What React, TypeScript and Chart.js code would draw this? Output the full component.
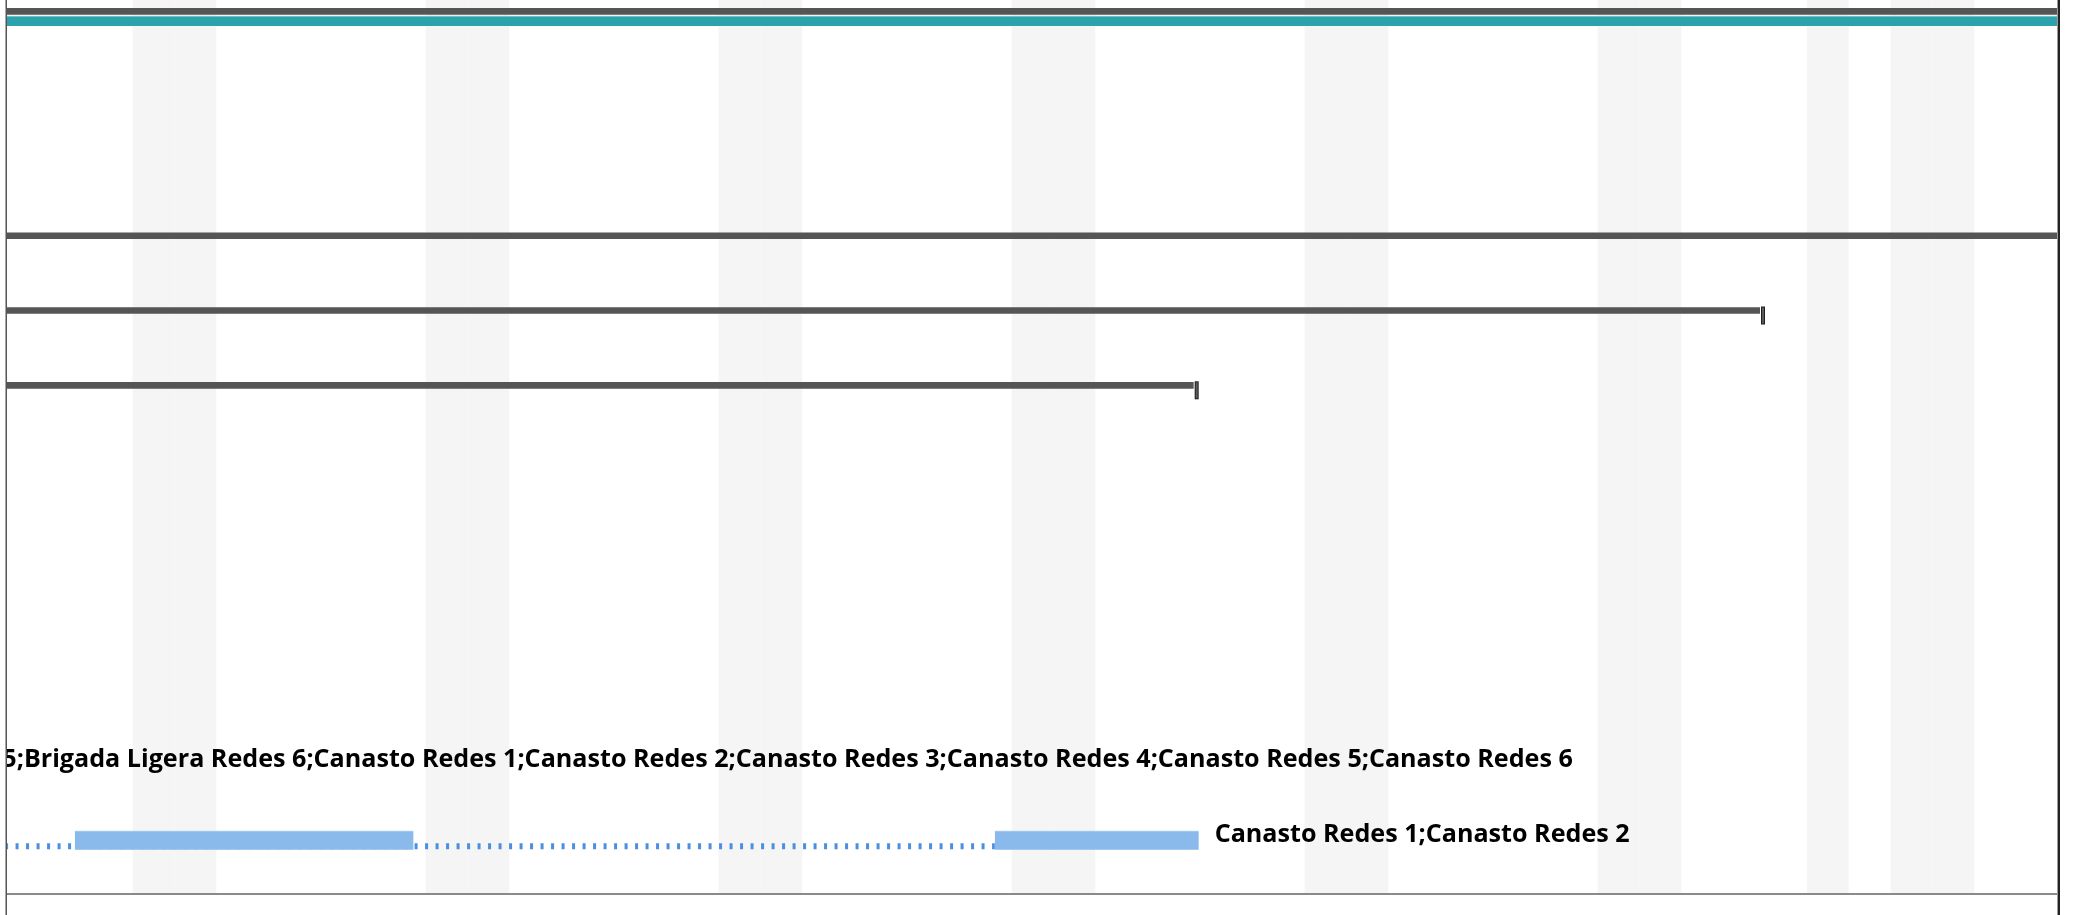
import React, { useEffect, useRef } from 'react';
import { Chart, registerables } from 'chart.js';

Chart.register(...registerables);

// ---- timeline (days) ----
const DAY_MIN = 0;
const DAY_MAX = 49;
const nonWorkingDays = [3, 4, 10, 11, 17, 18, 24, 25, 31, 32, 38, 39, 43, 45, 46];

// ---- rows (0 = top) ----
const ROW_MIN = -0.24;
const ROW_MAX = 11.7;

// summary bars
const summaryRows = [0, 3, 4, 5];
const summaryStart = [-60, -60, -60, -60];
const summaryEnd = [60, 60, 42.0, 28.47];
const summaryCapped = [false, false, true, true];

// team / baseline bar
const teamRows = [0];
const teamStart = [-60];
const teamEnd = [60];

// task bars
const taskRows = [10, 11, 11];
const taskStart = [-52, 1.62, 23.6];
const taskEnd = [-34.58, 9.71, 28.47];

// dotted slack lines
const slackRows = [11];
const slackStart = [-60];
const slackEnd = [23.6];

// resource labels (drawn after the task end)
const labelRows = [10, 11];
const labelAfter = [-34.58, 28.47];
const labelTexts = [
  'Brigada Ligera Redes 1;Brigada Ligera Redes 2;Brigada Ligera Redes 3;Brigada Ligera Redes 4;Brigada Ligera Redes 5;Brigada Ligera Redes 6;Canasto Redes 1;Canasto Redes 2;Canasto Redes 3;Canasto Redes 4;Canasto Redes 5;Canasto Redes 6',
  'Canasto Redes 1;Canasto Redes 2',
];

const LABEL_FAMILY = '"Open Sans"';
const LABEL_REF_WIDTH = 415; // width of the short label in the reference style

function labelFont(ctx: CanvasRenderingContext2D) {
  ctx.font = `bold 24px ${LABEL_FAMILY}`;
  const w = ctx.measureText(labelTexts[1]).width;
  const size = (24 * LABEL_REF_WIDTH) / w;
  return `bold ${size.toFixed(2)}px ${LABEL_FAMILY}`;
}

const ganttPlugin = {
  id: 'gantt',
  afterDatasetsUpdate(chart: any) {
    chart.data.datasets.forEach((ds: any, i: number) => {
      const off = ds.offsetPx || 0;
      if (!off) return;
      const meta = chart.getDatasetMeta(i);
      meta.data.forEach((el: any) => {
        el.y += off;
      });
    });
  },
  beforeDatasetsDraw(chart: any) {
    const { ctx, chartArea, scales } = chart;
    const x = scales.x;
    ctx.save();
    ctx.beginPath();
    ctx.rect(chartArea.left, 0, chartArea.right - chartArea.left, chartArea.bottom);
    ctx.clip();
    ctx.fillStyle = '#f5f5f5';
    nonWorkingDays.forEach((d) => {
      const x0 = x.getPixelForValue(d);
      const x1 = x.getPixelForValue(d + 1);
      ctx.fillRect(x0, 0, x1 - x0, chartArea.bottom);
    });
    // dotted slack lines
    ctx.strokeStyle = '#4b8fdf';
    ctx.lineWidth = 6;
    ctx.setLineDash([3, 7.5]);
    slackRows.forEach((r, i) => {
      const yc = scales.y.getPixelForValue(r) + 5.5;
      ctx.beginPath();
      ctx.moveTo(x.getPixelForValue(slackStart[i]), yc);
      ctx.lineTo(x.getPixelForValue(slackEnd[i]), yc);
      ctx.stroke();
    });
    ctx.restore();
  },
  afterDatasetsDraw(chart: any) {
    const { ctx, chartArea, scales } = chart;
    const x = scales.x;
    const y = scales.y;
    ctx.save();
    ctx.beginPath();
    ctx.rect(chartArea.left, chartArea.top, chartArea.right - chartArea.left, chartArea.bottom - chartArea.top);
    ctx.clip();
    // end caps of summary bars
    summaryRows.forEach((r, i) => {
      if (!summaryCapped[i]) return;
      const xe = x.getPixelForValue(summaryEnd[i]);
      const top = y.getPixelForValue(r) - 6.6 - 3 - 1;
      ctx.fillStyle = '#ffffff';
      ctx.fillRect(xe - 5, top - 1, 6, 20);
      ctx.fillStyle = '#1e1e1e';
      ctx.fillRect(xe - 4, top, 4, 18);
      ctx.fillStyle = '#5a5a5a';
      ctx.fillRect(xe - 3, top + 1, 2, 16);
    });
    // labels
    ctx.font = labelFont(ctx);
    ctx.fillStyle = '#000000';
    ctx.textAlign = 'left';
    ctx.textBaseline = 'alphabetic';
    labelRows.forEach((r, i) => {
      const xs = x.getPixelForValue(labelAfter[i]) + 16;
      const yb = y.getPixelForValue(r) + 1;
      ctx.fillText(labelTexts[i], xs, yb);
    });
    ctx.restore();
  },
  afterDraw(chart: any) {
    const { ctx, chartArea, height } = chart;
    ctx.save();
    // bottom line
    ctx.fillStyle = '#8a8a8a';
    ctx.fillRect(chartArea.left, chartArea.bottom, chartArea.right - chartArea.left, 2);
    // left border
    ctx.fillStyle = '#555555';
    ctx.fillRect(chartArea.left - 1.5, 0, 1.5, height);
    // right border
    ctx.fillStyle = '#9a9a9a';
    ctx.fillRect(chartArea.right - 1, 0, 1, height);
    ctx.fillStyle = '#222222';
    ctx.fillRect(chartArea.right, 0, 2, height);
    ctx.restore();
  },
};

function toFloating(rows: number[], starts: number[], ends: number[]) {
  return rows.map((r, i) => ({ x: [starts[i], ends[i]], y: r }));
}

export default function App() {
  const canvasRef = useRef<HTMLCanvasElement | null>(null);

  useEffect(() => {
    document.body.style.margin = '0';
    const canvas = canvasRef.current;
    if (!canvas) return;
    const chart = new Chart(canvas, {
      type: 'bar',
      data: {
        datasets: [
          {
            label: 'Resumen',
            data: toFloating(summaryRows, summaryStart, summaryEnd),
            backgroundColor: '#555555',
            barThickness: 6,
            grouped: false,
            clip: 0,
            offsetPx: -6.6,
          } as any,
          {
            label: 'Equipo',
            data: toFloating(teamRows, teamStart, teamEnd),
            backgroundColor: '#2ca3ac',
            borderColor: '#b9e2e5',
            borderWidth: { top: 1, left: 0, right: 0, bottom: 0 },
            borderSkipped: false,
            barThickness: 10,
            grouped: false,
            clip: 0,
            offsetPx: 3,
          } as any,
          {
            label: 'Tareas',
            data: toFloating(taskRows, taskStart, taskEnd),
            backgroundColor: '#89baeb',
            borderColor: '#b4d3f3',
            borderWidth: { top: 1, left: 0, right: 0, bottom: 0 },
            borderSkipped: false,
            barThickness: 19,
            grouped: false,
            clip: 0,
            offsetPx: -0.3,
          } as any,
        ],
      },
      options: {
        indexAxis: 'y',
        animation: false,
        responsive: true,
        maintainAspectRatio: false,
        layout: { padding: { left: 7, right: 21, top: 0, bottom: 22 } },
        plugins: { legend: { display: false }, tooltip: { enabled: false } },
        scales: {
          x: { type: 'linear', min: DAY_MIN, max: DAY_MAX, display: false, offset: false },
          y: { type: 'linear', min: ROW_MIN, max: ROW_MAX, reverse: true, display: false, offset: false },
        },
      },
      plugins: [ganttPlugin],
    } as any);
    return () => chart.destroy();
  }, []);

  return (
    <div style={{ position: 'fixed', left: 0, top: 0, width: 2079, height: 915, background: '#ffffff' }}>
      <canvas ref={canvasRef} />
    </div>
  );
}
